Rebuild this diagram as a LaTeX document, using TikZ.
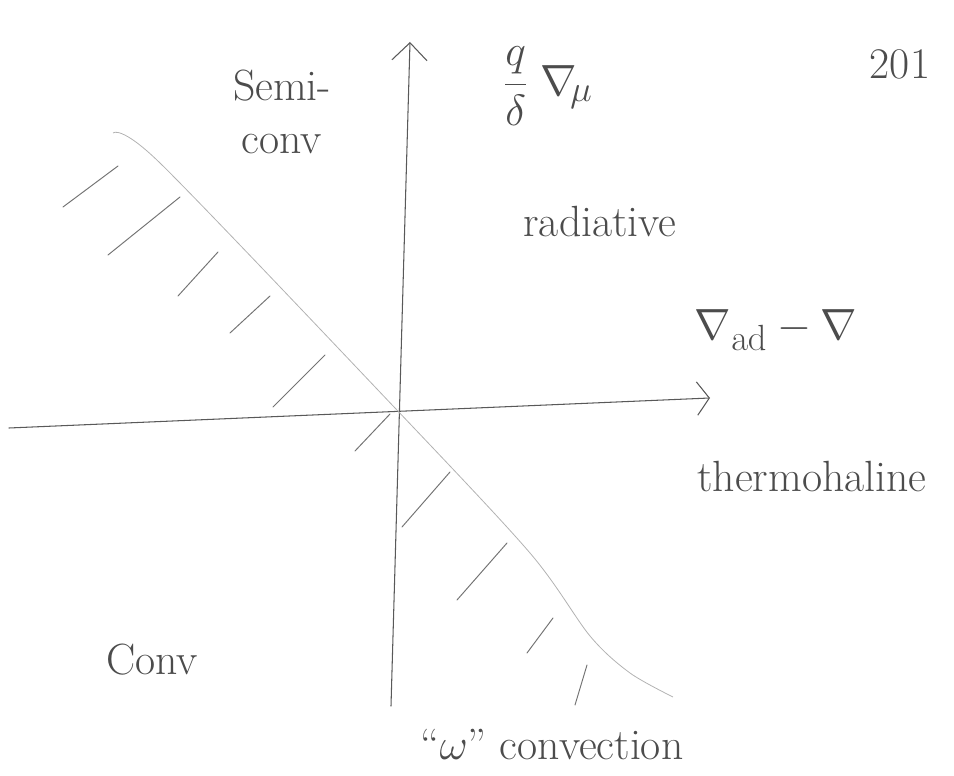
\documentclass[tikz,border=0pt]{standalone}
\usetikzlibrary{arrows.meta}
\tikzset{
  pencil/.style={draw=black!65, line width=0.6pt, line cap=round},
  faint/.style={draw=black!30, line width=0.45pt},
  hatch/.style={draw=black!55, line width=0.55pt, line cap=round},
  hand/.style={text=black!70, font=\Huge, inner sep=0pt},
}
\begin{document}
\begin{tikzpicture}[x=0.02cm,y=-0.02cm]
\useasboundingbox (0,0) rectangle (954,776);
% axes
\coordinate (xstart) at (9,428);
\coordinate (xend) at (710,398);
\coordinate (ystart) at (391,706);
\coordinate (yend) at (410,42);
\draw[pencil, -{Straight Barb[length=7pt,width=19pt]}] (xstart) -- (xend);
\draw[pencil, -{Straight Barb[length=10pt,width=20pt]}] (ystart) -- (yend);
% boundary line
\draw[faint] plot[smooth, tension=0.5] coordinates {(113,133) (160,163)
  (395,408) (530,553) (590,636) (630,673) (673,697)};
% hatching
\foreach \x/\y/\u/\v in {63/207/118/166, 108/255/180/197, 178/296/218/252,
  230/333/270/296, 273/407/325/355, 355/451/390/414, 402/527/450/472,
  457/600/507/543, 527/653/553/618, 575/705/587/665}
  \draw[hatch] (\x,\y) -- (\u,\v);
% labels
\node[hand, align=center] (semi) at (282,112) {Semi-\\conv};
\node[hand] (ledoux) at (548,86) {$\displaystyle\frac{q}{\delta}\;\nabla_{\!\mu}$};
\node[hand] (year) at (900,64) {201};
\node[hand] (rad) at (600,222) {radiative};
\node[hand] (grad) at (776,330) {$\nabla_{\mathrm{ad}} - \nabla$};
\node[hand] (thermo) at (812,477) {thermohaline};
\node[hand] (conv) at (152,660) {Conv};
\node[hand] (omega) at (552,745) {``$\omega$'' convection};
\end{tikzpicture}
\end{document}
